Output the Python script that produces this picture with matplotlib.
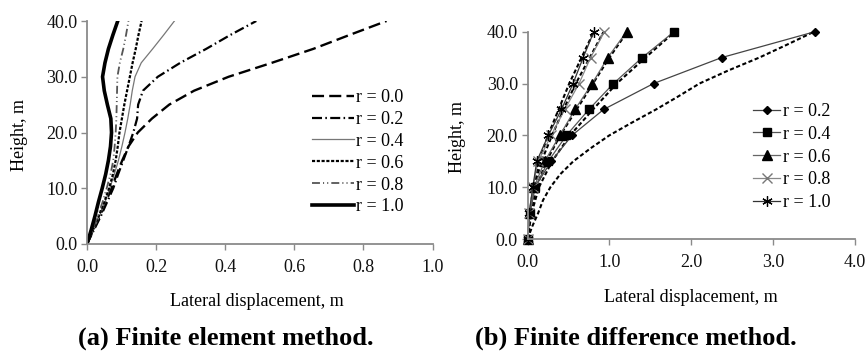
import matplotlib
matplotlib.use("Agg")
import matplotlib.pyplot as plt

plt.rcParams['font.family'] = ['Liberation Serif', 'DejaVu Serif']

# ---------------- data: (a) finite element method ----------------
fem_height = [0, 2.5, 5, 7.5, 10, 12.5, 15, 17.5, 20, 22.5, 25, 27.5, 30, 32.5, 35, 37.5, 40]
fem_r00 = [0, 0.018, 0.037, 0.054, 0.071, 0.086, 0.102, 0.120, 0.147, 0.188, 0.238, 0.310, 0.410, 0.535, 0.655, 0.760, 0.867]
fem_r02 = [0, 0.020, 0.040, 0.058, 0.076, 0.090, 0.105, 0.120, 0.134, 0.145, 0.148, 0.162, 0.205, 0.270, 0.345, 0.415, 0.490]
fem_r04 = [0, 0.018, 0.036, 0.052, 0.066, 0.079, 0.091, 0.101, 0.110, 0.118, 0.125, 0.131, 0.139, 0.157, 0.190, 0.222, 0.253]
fem_r06 = [0, 0.017, 0.034, 0.050, 0.064, 0.075, 0.083, 0.089, 0.094, 0.101, 0.108, 0.116, 0.124, 0.132, 0.141, 0.149, 0.158]
fem_r08 = [0, 0.016, 0.031, 0.045, 0.057, 0.068, 0.076, 0.080, 0.083, 0.085, 0.086, 0.087, 0.088, 0.095, 0.105, 0.113, 0.120]
fem_r10 = [0, 0.012, 0.023, 0.033, 0.044, 0.054, 0.062, 0.068, 0.071, 0.069, 0.059, 0.050, 0.045, 0.052, 0.062, 0.075, 0.089]
fem_labels = ["r = 0.0", "r = 0.2", "r = 0.4", "r = 0.6", "r = 0.8", "r = 1.0"]

# ---------------- data: (b) finite difference method ----------------
fdm_height = [0, 5, 10, 15, 20, 25, 30, 35, 40]
fdm_r02 = [0, 0.03, 0.09, 0.29, 0.544, 0.93, 1.54, 2.37, 3.51]
fdm_r04 = [0, 0.03, 0.093, 0.254, 0.476, 0.75, 1.05, 1.40, 1.79]
fdm_r06 = [0, 0.025, 0.08, 0.21, 0.395, 0.58, 0.79, 0.98, 1.21]
fdm_r08 = [0, 0.02, 0.065, 0.13, 0.29, 0.455, 0.63, 0.77, 0.94]
fdm_r10 = [0, 0.02, 0.065, 0.113, 0.254, 0.415, 0.556, 0.68, 0.81]
fdm_labels = ["r = 0.2", "r = 0.4", "r = 0.6", "r = 0.8", "r = 1.0"]

# reference (dashed) curves in panel (b)
ref_height_low = [0, 2.5, 5, 7.5, 10, 12.5, 15, 17.5, 20, 22.5, 25, 27.5, 30, 32.5, 35, 37.5, 40]
ref_r02 = [0, 0.06, 0.13, 0.19, 0.28, 0.40, 0.56, 0.77, 1.00, 1.28, 1.57, 1.84, 2.10, 2.45, 2.83, 3.17, 3.50]
ref_height = [0, 5, 10, 15, 20, 25, 30, 35, 40]
ref_r04 = [0, 0.05, 0.14, 0.30, 0.52, 0.80, 1.09, 1.44, 1.80]
ref_r06 = [0, 0.04, 0.11, 0.23, 0.40, 0.60, 0.80, 1.00, 1.22]
ref_r08 = [0, 0.03, 0.08, 0.17, 0.30, 0.44, 0.59, 0.76, 0.93]
ref_r10 = [0, 0.03, 0.07, 0.14, 0.25, 0.38, 0.51, 0.66, 0.81]

W, H = 867, 352
fig = plt.figure(figsize=(W / 100, H / 100), dpi=100)


def fx(px):
    return px / W


def fy(py):
    return 1 - py / H


spine_col = "#8a8a8a"


def style_axes(ax, xpad):
    for s in ("top", "right"):
        ax.spines[s].set_visible(False)
    for s in ("left", "bottom"):
        ax.spines[s].set_color(spine_col)
        ax.spines[s].set_linewidth(1.3)
    ax.tick_params(axis="both", direction="out", length=4, width=1.0, color=spine_col,
                   labelsize=13, labelcolor="#111111")
    ax.tick_params(axis="x", pad=xpad)
    ax.tick_params(axis="y", pad=3)


# ---------------- panel (a) ----------------
ax1 = fig.add_axes([fx(87), fy(244), fx(432.5) - fx(87), fy(21) - fy(244)])
ax1.plot(fem_r00, fem_height, color="black", lw=1.7, dashes=(5.1, 2.2), label=fem_labels[0])
ax1.plot(fem_r02, fem_height, color="black", lw=1.6, dashes=(4.5, 1.5, 0.7, 1.5), label=fem_labels[1])
ax1.plot(fem_r04, fem_height, color="#777777", lw=0.9, label=fem_labels[2])
ax1.plot(fem_r06, fem_height, color="black", lw=1.6, dashes=(1.4, 0.75), label=fem_labels[3])
ax1.plot(fem_r08, fem_height, color="#555555", lw=1.3, dashes=(4.4, 1.7, 0.6, 1.7, 0.6, 1.7), label=fem_labels[4])
ax1.plot(fem_r10, fem_height, color="black", lw=2.6, label=fem_labels[5])
ax1.set_xlim(0, 1.0)
ax1.set_ylim(0, 40)
ax1.set_xticks([0, 0.2, 0.4, 0.6, 0.8, 1.0])
ax1.set_yticks([0, 10, 20, 30, 40])
ax1.xaxis.set_major_formatter(matplotlib.ticker.FormatStrFormatter("%.1f"))
ax1.yaxis.set_major_formatter(matplotlib.ticker.FormatStrFormatter("%.1f"))
style_axes(ax1, 7)
leg1 = ax1.legend(loc="upper left", bbox_to_anchor=(fx(312), fy(89)), bbox_transform=fig.transFigure,
                  frameon=False, fontsize=13, handlelength=2.3, handletextpad=0.15,
                  labelspacing=0.27, borderpad=0, borderaxespad=0)

# ---------------- panel (b) ----------------
ax2 = fig.add_axes([fx(527.5), fy(239), fx(855) - fx(527.5), fy(31.7) - fy(239)])
dash_kw = dict(color="black", lw=1.5, dashes=(2.0, 1.2))
ax2.plot(ref_r02, ref_height_low, **dash_kw)
ax2.plot(ref_r04, ref_height, **dash_kw)
ax2.plot(ref_r06, ref_height, **dash_kw)
ax2.plot(ref_r08, ref_height, **dash_kw)
ax2.plot(ref_r10, ref_height, **dash_kw)

ax2.plot(fdm_r02, fdm_height, color="#444444", lw=0.9, marker="D", ms=4.5, mfc="black", mec="black",
         clip_on=False, label=fdm_labels[0])
ax2.plot(fdm_r04, fdm_height, color="#555555", lw=0.9, marker="s", ms=6, mfc="black", mec="black",
         clip_on=False, label=fdm_labels[1])
ax2.plot(fdm_r06, fdm_height, color="#666666", lw=0.9, marker="^", ms=6.5, mfc="black", mec="black",
         clip_on=False, label=fdm_labels[2])
ax2.plot(fdm_r08, fdm_height, color="#888888", lw=0.9, marker="x", ms=7.5, mew=1.0, mec="#777777",
         clip_on=False, label=fdm_labels[3])
ax2.plot(fdm_r10, fdm_height, color="#333333", lw=0.9, marker=(6, 2, 0), ms=7.5, mew=0.9, mec="black",
         clip_on=False, label=fdm_labels[4])
ax2.set_xlim(0, 4.0)
ax2.set_ylim(0, 40)
ax2.set_xticks([0, 1, 2, 3, 4])
ax2.set_yticks([0, 10, 20, 30, 40])
ax2.xaxis.set_major_formatter(matplotlib.ticker.FormatStrFormatter("%.1f"))
ax2.yaxis.set_major_formatter(matplotlib.ticker.FormatStrFormatter("%.1f"))
style_axes(ax2, 7)
leg2 = ax2.legend(loc="upper left", bbox_to_anchor=(fx(753), fy(103)), bbox_transform=fig.transFigure,
                  frameon=False, fontsize=13, handlelength=1.5, handletextpad=0.15,
                  labelspacing=0.32, borderpad=0, borderaxespad=0)

# ---------------- labels & titles ----------------
fig.text(fx(19), fy(135), "Height, m", rotation=90, ha="center", va="center", fontsize=13)
fig.text(fx(458), fy(137), "Height, m", rotation=90, ha="center", va="center", fontsize=13)
fig.text(fx(257), fy(302), "Lateral displacement, m", ha="center", va="center", fontsize=13)
fig.text(fx(691), fy(297), "Lateral displacement, m", ha="center", va="center", fontsize=13)
fig.text(fx(226), fy(338), "(a) Finite element method.", ha="center", va="center",
         fontsize=19, fontweight="bold")
fig.text(fx(636), fy(338), "(b) Finite difference method.", ha="center", va="center",
         fontsize=19, fontweight="bold")

fig.savefig("out.png", dpi=100, facecolor="white")
